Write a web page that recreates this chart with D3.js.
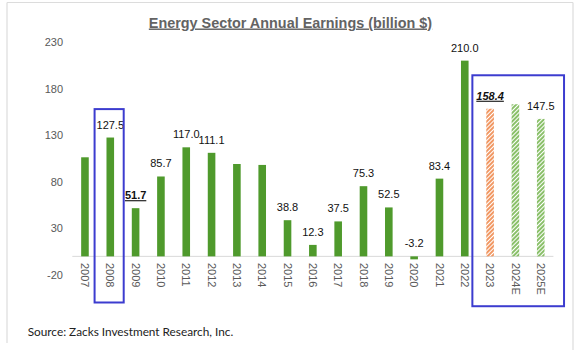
<!DOCTYPE html>
<html>
<head>
<meta charset="utf-8">
<script src="https://cdn.jsdelivr.net/npm/d3@7"></script>
<style>
  html, body { margin: 0; padding: 0; background: #fff; }
  svg { display: block; }
</style>
</head>
<body>
<svg id="chart" width="577" height="355"></svg>
<script>
// ---- data ----
const years = ["2007","2008","2009","2010","2011","2012","2013","2014","2015","2016","2017","2018","2019","2020","2021","2022","2023","2024E","2025E"];
const earnings = [106.3, 127.5, 51.7, 85.7, 117.0, 111.1, 99.1, 98.1, 38.8, 12.3, 37.5, 75.3, 52.5, -3.2, 83.4, 210.0, 158.4, 163.2, 147.5];
const shownLabels = ["", "127.5", "51.7", "85.7", "117.0", "111.1", "", "", "38.8", "12.3", "37.5", "75.3", "52.5", "-3.2", "83.4", "210.0", "158.4", "", "147.5"];
const barKind = ["a","a","a","a","a","a","a","a","a","a","a","a","a","a","a","a","actual-est","estimate","estimate"];
const yTicks = [-20, 30, 80, 130, 180, 230];
const titleText = "Energy Sector Annual Earnings (billion $)";
const sourceText = "Source: Zacks Investment Research, Inc.";

// ---- layout ----
const svg = d3.select("#chart");
const green = "#4f9a2c", lightGreen = "#6cb043", orange = "#ee7d3b", blue = "#3c3ccf";

const x = d3.scaleBand().domain(years).range([72.3, 553.4]).paddingInner(0.7).paddingOuter(0.35);
const y = d3.scaleLinear().domain([-20, 230]).range([275, 42]);

// frame
const frame = svg.append("g").attr("stroke", "#dcdcdc").attr("stroke-width", 1.2).attr("fill", "none");
frame.append("line").attr("x1", 7).attr("x2", 573).attr("y1", 2.5).attr("y2", 2.5);
frame.append("line").attr("x1", 7).attr("x2", 7).attr("y1", 2.5).attr("y2", 343);
frame.append("line").attr("x1", 573).attr("x2", 573).attr("y1", 2.5).attr("y2", 350);

// patterns
const defs = svg.append("defs");
function hatch(id, color) {
  const p = defs.append("pattern").attr("id", id).attr("patternUnits", "userSpaceOnUse")
    .attr("width", 3).attr("height", 3).attr("patternTransform", "rotate(45)");
  p.append("line").attr("x1", 1).attr("x2", 1).attr("y1", 0).attr("y2", 3)
    .attr("stroke", color).attr("stroke-width", 1.6);
}
hatch("hOrange", orange);
hatch("hGreen", lightGreen);

// title
svg.append("text").attr("x", 290.5).attr("y", 27.5).attr("text-anchor", "middle")
  .attr("font-family", "Liberation Sans, Arial, sans-serif").attr("font-size", 14.4)
  .attr("font-weight", "bold").attr("fill", "#636363").attr("text-decoration", "underline")
  .text(titleText);

// y axis
const yAxis = svg.append("g").attr("transform", "translate(63,0)")
  .call(d3.axisLeft(y).tickValues(yTicks).tickSize(0).tickPadding(0).tickFormat(d => String(d)));
yAxis.select(".domain").remove();
yAxis.selectAll("text").attr("font-family", "Liberation Sans, Arial, sans-serif")
  .attr("font-size", 11).attr("fill", "#595959");

// baseline
svg.append("line").attr("x1", 72.3).attr("x2", 553.4).attr("y1", y(0)).attr("y2", y(0))
  .attr("stroke", "#d9d9d9").attr("stroke-width", 1);

// bars
const data = years.map((yr, i) => ({ yr, v: earnings[i], lab: shownLabels[i], kind: barKind[i] }));
svg.append("g").selectAll("rect").data(data).join("rect")
  .attr("x", d => x(d.yr))
  .attr("width", x.bandwidth())
  .attr("y", d => y(Math.max(0, d.v)))
  .attr("height", d => Math.abs(y(d.v) - y(0)))
  .attr("fill", d => d.kind === "a" ? green : d.kind === "actual-est" ? "url(#hOrange)" : "url(#hGreen)");

// value labels
svg.append("g").selectAll("text").data(data.filter(d => d.lab !== "")).join("text")
  .attr("x", d => x(d.yr) + x.bandwidth() / 2)
  .attr("y", d => y(Math.max(0, d.v)) - 9)
  .attr("text-anchor", "middle")
  .attr("font-family", "Liberation Sans, Arial, sans-serif")
  .attr("font-size", 11)
  .attr("fill", "#111")
  .attr("font-weight", d => (d.lab === "51.7" || d.lab === "158.4") ? "bold" : "normal")
  .attr("font-style", d => d.lab === "158.4" ? "italic" : "normal")
  .attr("text-decoration", d => (d.lab === "51.7" || d.lab === "158.4") ? "underline" : "none")
  .text(d => d.lab);

// x labels (rotated)
svg.append("g").selectAll("text").data(years).join("text")
  .attr("transform", d => `translate(${x(d) + x.bandwidth() / 2},263) rotate(90)`)
  .attr("dy", "0.35em")
  .attr("text-anchor", "start")
  .attr("font-family", "Liberation Sans, Arial, sans-serif")
  .attr("font-size", 11)
  .attr("fill", "#595959")
  .text(d => d);

// highlight boxes
const step = x.step();
const c = yr => x(yr) + x.bandwidth() / 2;
svg.append("rect")
  .attr("x", c("2008") - step * 0.62).attr("y", y(158))
  .attr("width", step * 1.15).attr("height", y(-49.5) - y(158))
  .attr("fill", "none").attr("stroke", blue).attr("stroke-width", 2);
svg.append("rect")
  .attr("x", c("2023") - step * 0.7).attr("y", y(194.3))
  .attr("width", c("2025E") - c("2023") + step * 1.62).attr("height", y(-53.5) - y(194.3))
  .attr("fill", "none").attr("stroke", blue).attr("stroke-width", 2);

// source
svg.append("text").attr("x", 27.7).attr("y", 336)
  .attr("font-family", "Lato, 'Open Sans', sans-serif").attr("font-size", 11.8)
  .attr("fill", "#222").text(sourceText);
</script>
</body>
</html>
